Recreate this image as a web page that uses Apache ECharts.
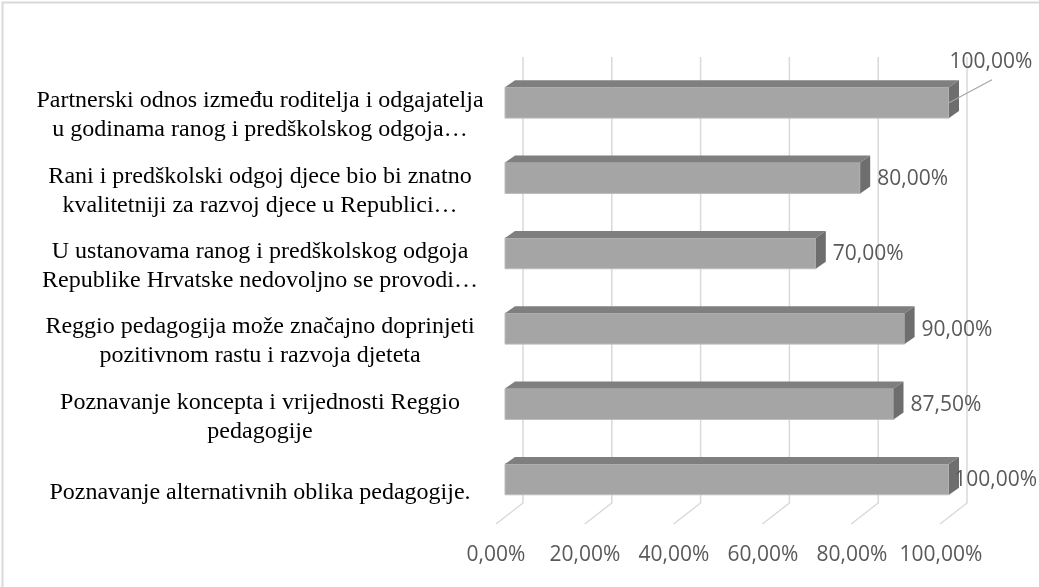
<!DOCTYPE html>
<html>
<head>
<meta charset="utf-8">
<script src="https://cdn.jsdelivr.net/npm/echarts@6/dist/echarts.min.js"></script>
<style>
  html, body { margin: 0; padding: 0; background: #fff; }
  #chart { width: 1039px; height: 587px; }
</style>
</head>
<body>
<div id="chart"></div>
<script>
// categories, top to bottom
const categories = [
  'Partnerski odnos između roditelja i odgajatelja\nu godinama ranog i predškolskog odgoja…',
  'Rani i predškolski odgoj djece bio bi znatno\nkvalitetniji za razvoj djece u Republici…',
  'U ustanovama ranog i predškolskog odgoja\nRepublike Hrvatske nedovoljno se provodi…',
  'Reggio pedagogija može značajno doprinjeti\npozitivnom rastu i razvoja djeteta',
  'Poznavanje koncepta i vrijednosti Reggio\npedagogije',
  'Poznavanje alternativnih oblika pedagogije.'
];
const values = [100, 80, 70, 90, 87.5, 100];
const ticks = [0, 20, 40, 60, 80, 100];

const labelFont = '21px "Open Sans"';
const pct = v => v.toFixed(2).replace('.', ',') + '%';

// 3D depth of the bars; bars sit a bit above the category label centre
const DX = 10, DY = 7, SHIFT = -13;

const ctx = document.createElement('canvas').getContext('2d');
function textWidth(s) {
  ctx.font = labelFont;
  return ctx.measureText(s).width;
}

function renderGrid(params, api) {
  const x = api.coord([api.value(0), 0])[0];
  const cs = params.coordSys;
  const bottom = cs.y + cs.height;
  return {
    type: 'polyline',
    shape: { points: [[x + 18, cs.y - 21], [x + 18, bottom - 27], [x - 9, bottom - 6]] },
    style: { stroke: '#d9d9d9', lineWidth: 1.5, fill: null }
  };
}

function renderBar(params, api) {
  const idx = api.value(1);
  const v = api.value(0);
  const c = api.coord([0, idx]);
  const e = api.coord([v, idx]);
  const h = api.size([0, 1])[1] * 0.41;
  const cy = c[1] + SHIFT;
  const x0 = c[0], x1 = e[0];
  const y0 = cy - h / 2, y1 = y0 + h;
  const children = [
    { type: 'rect', shape: { x: x0, y: y0, width: x1 - x0, height: h },
      style: { fill: '#a5a5a5', stroke: '#bdbdbd', lineWidth: 1 } },
    { type: 'polygon', shape: { points: [[x0, y0], [x0 + DX, y0 - DY], [x1 + DX, y0 - DY], [x1, y0]] },
      style: { fill: '#7f7f7f' } },
    { type: 'polygon', shape: { points: [[x1, y0], [x1 + DX, y0 - DY], [x1 + DX, y1 - DY], [x1, y1]] },
      style: { fill: '#6e6e6e' } }
  ];
  const txt = pct(v);
  if (idx === 0) {
    // first label was moved up with a leader line
    children.push({ type: 'line', shape: { x1: x1, y1: cy, x2: x1 + 43, y2: cy - 23 },
      style: { stroke: '#a6a6a6', lineWidth: 1.2 } });
    children.push({ type: 'text', x: x1 + 42, y: cy - 41,
      style: { text: txt, font: labelFont, fill: '#595959', align: 'center', verticalAlign: 'middle' } });
  } else {
    let tx = x1 + DX + 7, align = 'left';
    if (tx + textWidth(txt) > 1037) { tx = 1037; align = 'right'; }
    children.push({ type: 'text', x: tx, y: cy + 1,
      style: { text: txt, font: labelFont, fill: '#595959', align: align, verticalAlign: 'middle' } });
  }
  return { type: 'group', children: children };
}

const chart = echarts.init(document.getElementById('chart'), null, { renderer: 'canvas' });
chart.setOption({
  animation: false,
  graphic: [{
    type: 'rect', left: 0, top: 0, z: -10,
    shape: { x: 7.7, y: 12, width: 1200, height: 800 },
    style: { fill: null, stroke: '#d9d9d9', lineWidth: 2 }
  }],
  grid: [
    { left: 505, right: 90, top: 78, bottom: 57 },
    // front edge of the floor, where the value labels sit
    { left: 496, right: 98, top: 78, bottom: 57 }
  ],
  xAxis: [{
    type: 'value', min: 0, max: 100, interval: 20, gridIndex: 0,
    axisLine: { show: false }, axisTick: { show: false }, splitLine: { show: false },
    axisLabel: { show: false }
  }, {
    type: 'value', min: 0, max: 100, interval: 20, gridIndex: 1,
    axisLine: { show: false }, axisTick: { show: false }, splitLine: { show: false },
    axisLabel: {
      formatter: v => pct(v), color: '#595959', fontFamily: 'Open Sans', fontSize: 21,
      lineHeight: 24, margin: 13, showMinLabel: true, showMaxLabel: true, hideOverlap: false
    }
  }],
  yAxis: [{
    type: 'category', data: categories, inverse: true, gridIndex: 0,
    axisLine: { show: false }, axisTick: { show: false },
    axisLabel: {
      interval: 0, showMinLabel: true, showMaxLabel: true, hideOverlap: false,
      color: '#000', fontFamily: 'Liberation Serif', fontSize: 24, lineHeight: 29,
      align: 'center', margin: 245
    }
  }, {
    type: 'category', data: categories, inverse: true, gridIndex: 1, show: false
  }],
  series: [
    { type: 'custom', z: 1, silent: true, renderItem: renderGrid,
      data: ticks.map(t => [t, 0]), encode: { x: 0, y: 1 }, clip: false },
    { type: 'custom', z: 2, silent: true, renderItem: renderBar,
      data: values.map((v, i) => [v, i]), encode: { x: 0, y: 1 }, clip: false }
  ]
});
</script>
</body>
</html>
